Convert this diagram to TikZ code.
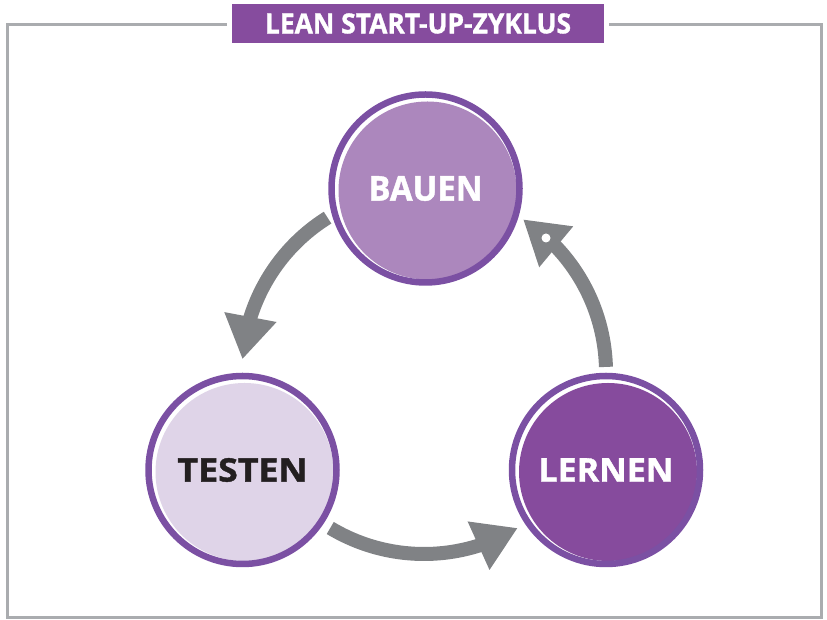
\documentclass[tikz,border=0pt]{standalone}
\usepackage{fontspec}
\setmainfont{Open Sans}[BoldFeatures={FakeBold=1.2}]
\usepackage{graphicx}
\usetikzlibrary{arrows.meta,bending}

\definecolor{ringpurple}{RGB}{123,80,163}
\definecolor{titlepurple}{RGB}{134,76,158}
\definecolor{bauenfill}{RGB}{172,135,189}
\definecolor{testenfill}{RGB}{223,212,232}
\definecolor{lernenfill}{RGB}{134,75,157}
\definecolor{testentext}{RGB}{35,31,32}
\definecolor{arrowgray}{RGB}{128,130,133}
\definecolor{framegray}{RGB}{170,172,175}

% bold label squeezed to a given width and cap height
\newcommand{\fitlabel}[3]{\resizebox{#1}{#2}{\bfseries #3}}

\tikzset{
  stage/.style={circle, draw=ringpurple, line width=6.5pt, fill=white,
    minimum size=188pt, inner sep=0pt,
    path picture={\fill[#1] ([shift={(2pt,-2pt)}]path picture bounding box.center) circle (89pt);}},
  cyclearrow/.style={arrowgray, line width=14pt, -{Triangle[width=50pt,length=43pt]}},
}

\begin{document}
\begin{tikzpicture}[x=1pt,y=1pt]
  \useasboundingbox (0,0) rectangle (827,620);

  % Outer frame
  \draw[framegray, line width=3pt] (7,2) rectangle (821,595.5);

  % Title bar on the frame
  \node[fill=titlepurple, text=white, minimum width=372pt, minimum height=39pt, inner sep=0pt,
        preaction={draw=white, line width=10pt}] (title) at (418,596.5)
        {\fitlabel{306pt}{20pt}{LEAN START-UP-ZYKLUS}};

  % The three stages
  \node[stage=bauenfill, text=white] (bauen) at (425.5,431.5) {\fitlabel{114pt}{24.5pt}{BAUEN}};
  \node[stage=testenfill, text=testentext] (testen) at (242.5,150) {\fitlabel{130pt}{23.5pt}{TESTEN}};
  \node[stage=lernenfill, text=white] (lernen) at (606,150) {\fitlabel{135pt}{23.5pt}{LERNEN}};

  % Arrows around the cycle
  \coordinate (cyc) at (424,248);
  \draw[cyclearrow] ([shift={(122:182pt)}]cyc) arc[start angle=122, end angle=176, radius=182pt];
  \draw[cyclearrow] ([shift={(239:182pt)}]cyc) arc[start angle=239, end angle=301, radius=182pt];
  \draw[cyclearrow] ([shift={(1.6:182pt)}]cyc) arc[start angle=1.6, end angle=57, radius=182pt];

  % small dot on the last arrow head
  \fill[white] (546,382) circle (4.5pt);
\end{tikzpicture}
\end{document}
